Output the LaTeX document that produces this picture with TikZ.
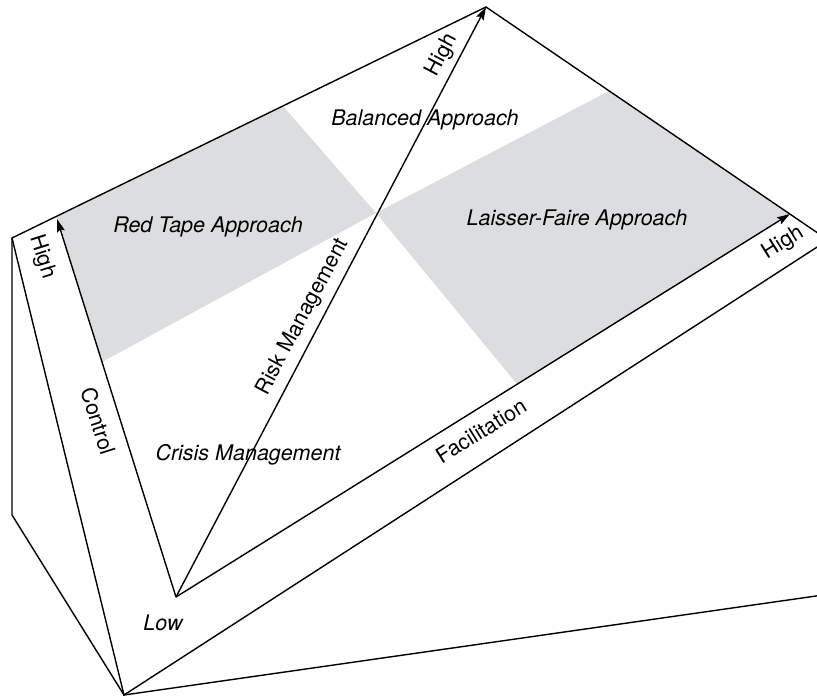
\documentclass[tikz,border=0pt]{standalone}
\usepackage{fontspec}
\setmainfont{TeX Gyre Heros}
\usetikzlibrary{arrows.meta}
\definecolor{quadgray}{RGB}{220,221,223}
\tikzset{
  edge/.style={line width=1.4pt, line join=miter},
  axis/.style={line width=1.4pt, -{Stealth[length=13pt,width=8pt,inset=2pt]}},
  axislabel/.style={font=\fontsize{21.5}{25}\selectfont, inner sep=0pt},
  quadlabel/.style={font=\fontsize{21.5}{25}\selectfont\itshape, inner sep=0pt, anchor=base}
}
\begin{document}
\begin{tikzpicture}[x=1pt, y=-1pt]
\useasboundingbox (0,0) rectangle (817,696);
\clip (0,0) rectangle (817,696);
% Define corners of the wedge
\coordinate (L) at (12,238); \coordinate (LL) at (12,515); \coordinate (B) at (124,695);
\coordinate (T) at (486,7); \coordinate (R) at (828,240); \coordinate (BR) at (830,594);
% Define axes
\coordinate (O) at (176,597); \coordinate (C) at (57,219); \coordinate (F) at (790,214);
\coordinate (X) at (376,213);
% Shaded quadrants
\fill[quadgray] (56,217) -- (283,106) -- (X) -- (102,362) -- cycle;
\fill[quadgray] (X) -- (609,91) -- (790,214) -- (517,384) -- cycle;
% Wedge
\draw[edge] (LL) -- (L) -- (T) -- (R) -- (B) -- cycle;
\draw[edge] (L) -- (B) -- (BR);
% Axes
\draw[axis] (O) -- (C);
\draw[axis] (O) -- (T);
\draw[axis] (O) -- (F);
\node[axislabel, rotate=-72.5] (control) at (98,421) {Control};
\node[axislabel, rotate=-72.5] (controlhigh) at (42,257) {High};
\node[axislabel, rotate=62] (risk) at (303,317) {Risk Management};
\node[axislabel, rotate=62] (riskhigh) at (442,55) {High};
\node[axislabel, rotate=32] (facil) at (481,431) {Facilitation};
\node[axislabel, rotate=32] (facilhigh) at (783,243) {High};
% Quadrants
\node[quadlabel] (low) at (163,630) {Low};
\node[quadlabel] (crisis) at (248,460) {Crisis Management};
\node[quadlabel] (redtape) at (208,232) {Red Tape Approach};
\node[quadlabel] (balanced) at (425,125) {Balanced Approach};
\node[quadlabel] (laisser) at (577,225) {Laisser-Faire Approach};
\end{tikzpicture}
\end{document}
